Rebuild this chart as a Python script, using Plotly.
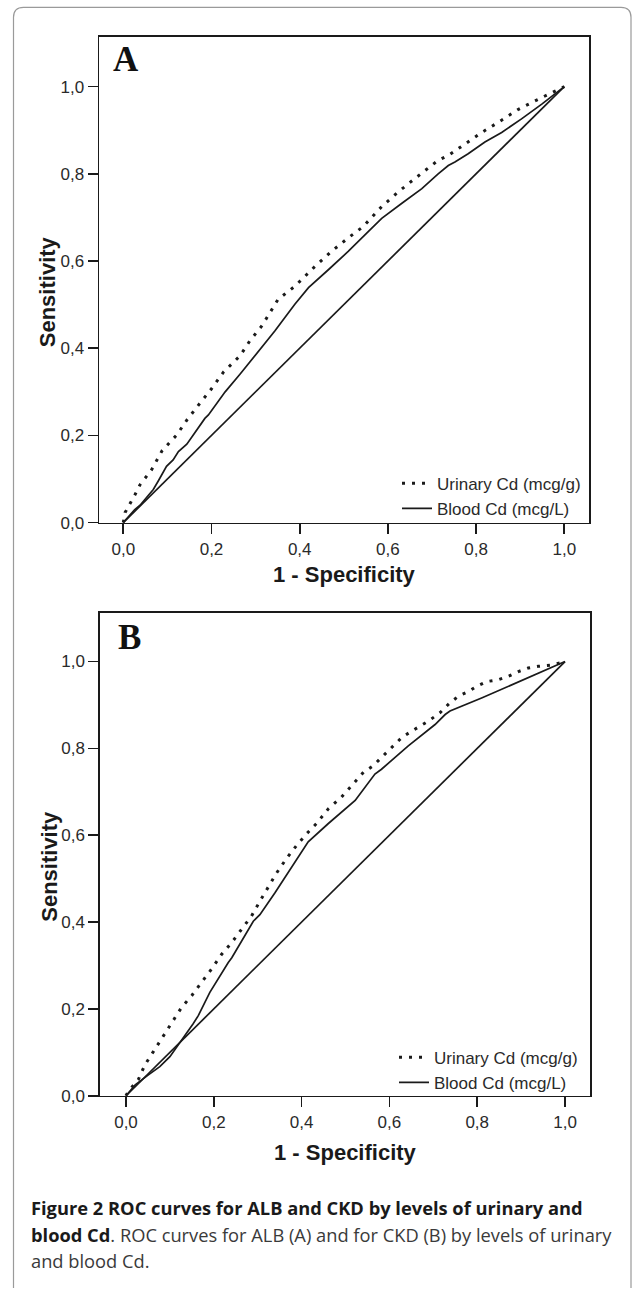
import plotly.graph_objects as go

W, H = 632, 1293

def fx(px):
    return px / W

def fy(py):
    return 1 - py / H

# ---------------- data ----------------
# Panel A (ALB)
a_urinary_x = [0.0, 0.004, 0.027, 0.038, 0.064, 0.088, 0.121, 0.144, 0.170, 0.200, 0.227, 0.265, 0.287,
               0.314, 0.351, 0.389, 0.435, 0.472, 0.510, 0.544, 0.586, 0.624, 0.661, 0.714, 0.737,
               0.775, 0.813, 0.850, 0.896, 0.933, 1.0]
a_urinary_y = [0.0, 0.023, 0.065, 0.087, 0.121, 0.165, 0.201, 0.235, 0.269, 0.307, 0.345, 0.383, 0.417,
               0.451, 0.512, 0.542, 0.588, 0.622, 0.653, 0.679, 0.725, 0.759, 0.789, 0.831, 0.842,
               0.869, 0.895, 0.918, 0.948, 0.967, 1.0]

a_blood_x = [0.0, 0.026, 0.038, 0.057, 0.068, 0.079, 0.098, 0.113, 0.125, 0.144, 0.166, 0.185, 0.193,
             0.231, 0.265, 0.299, 0.344, 0.389, 0.420, 0.465, 0.510, 0.556, 0.586, 0.631, 0.677,
             0.714, 0.737, 0.752, 0.782, 0.820, 0.858, 0.903, 0.949, 1.0]
a_blood_y = [0.0, 0.030, 0.040, 0.064, 0.076, 0.095, 0.129, 0.144, 0.163, 0.180, 0.213, 0.239, 0.247,
             0.300, 0.341, 0.383, 0.440, 0.501, 0.539, 0.580, 0.622, 0.668, 0.698, 0.732, 0.766,
             0.800, 0.819, 0.827, 0.846, 0.873, 0.895, 0.926, 0.960, 1.0]

# Panel B (CKD)
b_urinary_x = [0.0, 0.005, 0.028, 0.043, 0.062, 0.085, 0.108, 0.127, 0.150, 0.172, 0.195, 0.218, 0.241,
               0.260, 0.286, 0.305, 0.324, 0.343, 0.366, 0.389, 0.412, 0.434, 0.461, 0.491, 0.514,
               0.541, 0.563, 0.586, 0.605, 0.628, 0.651, 0.670, 0.689, 0.715, 0.738, 0.757, 0.780,
               0.799, 0.822, 0.848, 0.871, 0.894, 0.916, 0.939, 0.970, 1.0]
b_urinary_y = [0.0, 0.010, 0.037, 0.071, 0.101, 0.136, 0.174, 0.204, 0.231, 0.261, 0.292, 0.326, 0.353,
               0.379, 0.414, 0.448, 0.482, 0.513, 0.547, 0.577, 0.604, 0.627, 0.661, 0.688, 0.714,
               0.745, 0.760, 0.783, 0.802, 0.825, 0.840, 0.851, 0.863, 0.882, 0.905, 0.920, 0.931,
               0.943, 0.954, 0.958, 0.966, 0.977, 0.985, 0.989, 0.992, 1.0]

b_blood_x = [0.0, 0.021, 0.051, 0.077, 0.100, 0.127, 0.153, 0.165, 0.191, 0.233, 0.241, 0.290, 0.305,
             0.339, 0.415, 0.461, 0.522, 0.567, 0.582, 0.643, 0.704, 0.727, 0.738, 0.810, 0.886, 1.0]
b_blood_y = [0.0, 0.025, 0.048, 0.067, 0.090, 0.128, 0.166, 0.185, 0.238, 0.307, 0.318, 0.402, 0.417,
             0.467, 0.585, 0.627, 0.680, 0.741, 0.752, 0.806, 0.855, 0.878, 0.886, 0.916, 0.950, 1.0]

ref_x = [0.0, 1.0]
ref_y = [0.0, 1.0]

tick_vals = [0.0, 0.2, 0.4, 0.6, 0.8, 1.0]
tick_text = ["0,0", "0,2", "0,4", "0,6", "0,8", "1,0"]

series_names = ["Urinary Cd (mcg/g)", "Blood Cd (mcg/L)"]
panel_letters = ["A", "B"]
x_title = "1 - Specificity"
y_title = "Sensitivity"
caption_lines = [
    "<b>Figure 2 ROC curves for ALB and CKD by levels of urinary and</b>",
    "<b>blood Cd</b><span style='color:#3a3a3a'>. ROC curves for ALB (A) and for CKD (B) by levels of urinary</span>",
    "<span style='color:#3a3a3a'>and blood Cd.</span>",
]

# ---------------- figure ----------------
fig = go.Figure()

INK = "#1a1a1a"
dot_line = dict(color=INK, width=3, dash="3px,7px")
solid_line = dict(color=INK, width=1.7)

panels = [
    dict(ux=a_urinary_x, uy=a_urinary_y, bx=a_blood_x, by=a_blood_y, xa="x", ya="y", legend="legend"),
    dict(ux=b_urinary_x, uy=b_urinary_y, bx=b_blood_x, by=b_blood_y, xa="x2", ya="y2", legend="legend2"),
]
for p in panels:
    fig.add_trace(go.Scatter(x=p["ux"], y=p["uy"], mode="lines", line=dot_line,
                             name=series_names[0], xaxis=p["xa"], yaxis=p["ya"],
                             legend=p["legend"], hoverinfo="skip"))
    fig.add_trace(go.Scatter(x=p["bx"], y=p["by"], mode="lines", line=solid_line,
                             name=series_names[1], xaxis=p["xa"], yaxis=p["ya"],
                             legend=p["legend"], hoverinfo="skip"))
    fig.add_trace(go.Scatter(x=ref_x, y=ref_y, mode="lines", line=solid_line,
                             showlegend=False, xaxis=p["xa"], yaxis=p["ya"], hoverinfo="skip"))

tick_font = dict(family="Liberation Sans, Arial", size=17, color="#2a2a2a")
axis_common = dict(showgrid=False, zeroline=False, showline=True, mirror=True,
                   linecolor=INK, linewidth=1.7, ticks="outside", ticklen=10,
                   tickwidth=1.7, tickcolor=INK, tickvals=tick_vals, ticktext=tick_text,
                   tickfont=tick_font, fixedrange=True)

legend_font = dict(family="Liberation Sans, Arial", size=17, color="#2a2a2a")
fig.update_layout(
    width=W, height=H,
    margin=dict(l=0, r=0, t=0, b=0),
    paper_bgcolor="white", plot_bgcolor="white",
    xaxis=dict(domain=[fx(99.3), fx(589.3)], range=[-0.0544, 1.0567], anchor="y", **axis_common),
    yaxis=dict(domain=[fy(526.7), fy(37.3)], range=[0, 1.1138], anchor="x", **axis_common),
    xaxis2=dict(domain=[fx(100), fx(590)], range=[-0.0592, 1.0569], anchor="y2", **axis_common),
    yaxis2=dict(domain=[fy(1104.3), fy(617.3)], range=[0, 1.1129], anchor="x2", **axis_common),
    legend=dict(x=fx(397), y=fy(500), xanchor="left", yanchor="middle",
                bgcolor="rgba(0,0,0,0)", borderwidth=0, font=legend_font),
    legend2=dict(x=fx(394), y=fy(1078.5), xanchor="left", yanchor="middle",
                 bgcolor="rgba(0,0,0,0)", borderwidth=0, font=legend_font),
    showlegend=True,
)

# outer rounded frame (open at the bottom)
l, t, r, rad = 13.5, 7.5, 631.0, 10.0
frame_path = (f"M {fx(l)},{fy(H + 5)} L {fx(l)},{fy(t + rad)} "
              f"Q {fx(l)},{fy(t)} {fx(l + rad)},{fy(t)} "
              f"L {fx(r - rad)},{fy(t)} Q {fx(r)},{fy(t)} {fx(r)},{fy(t + rad)} "
              f"L {fx(r)},{fy(H + 5)}")
fig.add_shape(type="path", path=frame_path, xref="paper", yref="paper",
              line=dict(color="#9a9a9a", width=1.2), layer="below")

annotations = []
title_font = dict(family="Liberation Sans, Arial", size=22, color="#1a1a1a", weight="bold")
letter_font = dict(family="Liberation Serif, Times New Roman", size=35, color="#111111", weight="bold")

# panel letters
for letter, (lx, ly) in zip(panel_letters, [(111, 60), (116, 642)]):
    annotations.append(dict(text=letter, x=fx(lx), y=fy(ly), xref="paper", yref="paper",
                            xanchor="left", yanchor="middle", showarrow=False, font=letter_font))
# axis titles
for (xx, xy), (yx, yy) in [((344, 579), (47, 293.5)), ((345.5, 1161.7), (50, 873.5))]:
    annotations.append(dict(text=x_title, x=fx(xx), y=fy(xy), xref="paper", yref="paper",
                            xanchor="center", yanchor="middle", showarrow=False, font=title_font))
    annotations.append(dict(text=y_title, x=fx(yx), y=fy(yy), xref="paper", yref="paper",
                            xanchor="center", yanchor="middle", showarrow=False, font=title_font,
                            textangle=-90))
# caption
for line, cy in zip(caption_lines, [1217, 1244, 1270.5]):
    annotations.append(dict(text=line, x=fx(29), y=fy(cy), xref="paper", yref="paper",
                            xanchor="left", yanchor="middle", showarrow=False, align="left",
                            font=dict(family="Open Sans, Noto Sans", size=18.3, color="#1a1a1a")))

fig.update_layout(annotations=annotations)

fig.write_html("out.html", config={"displayModeBar": False, "staticPlot": True},
               post_script="document.body.style.margin='0';document.body.style.overflow='hidden';")
